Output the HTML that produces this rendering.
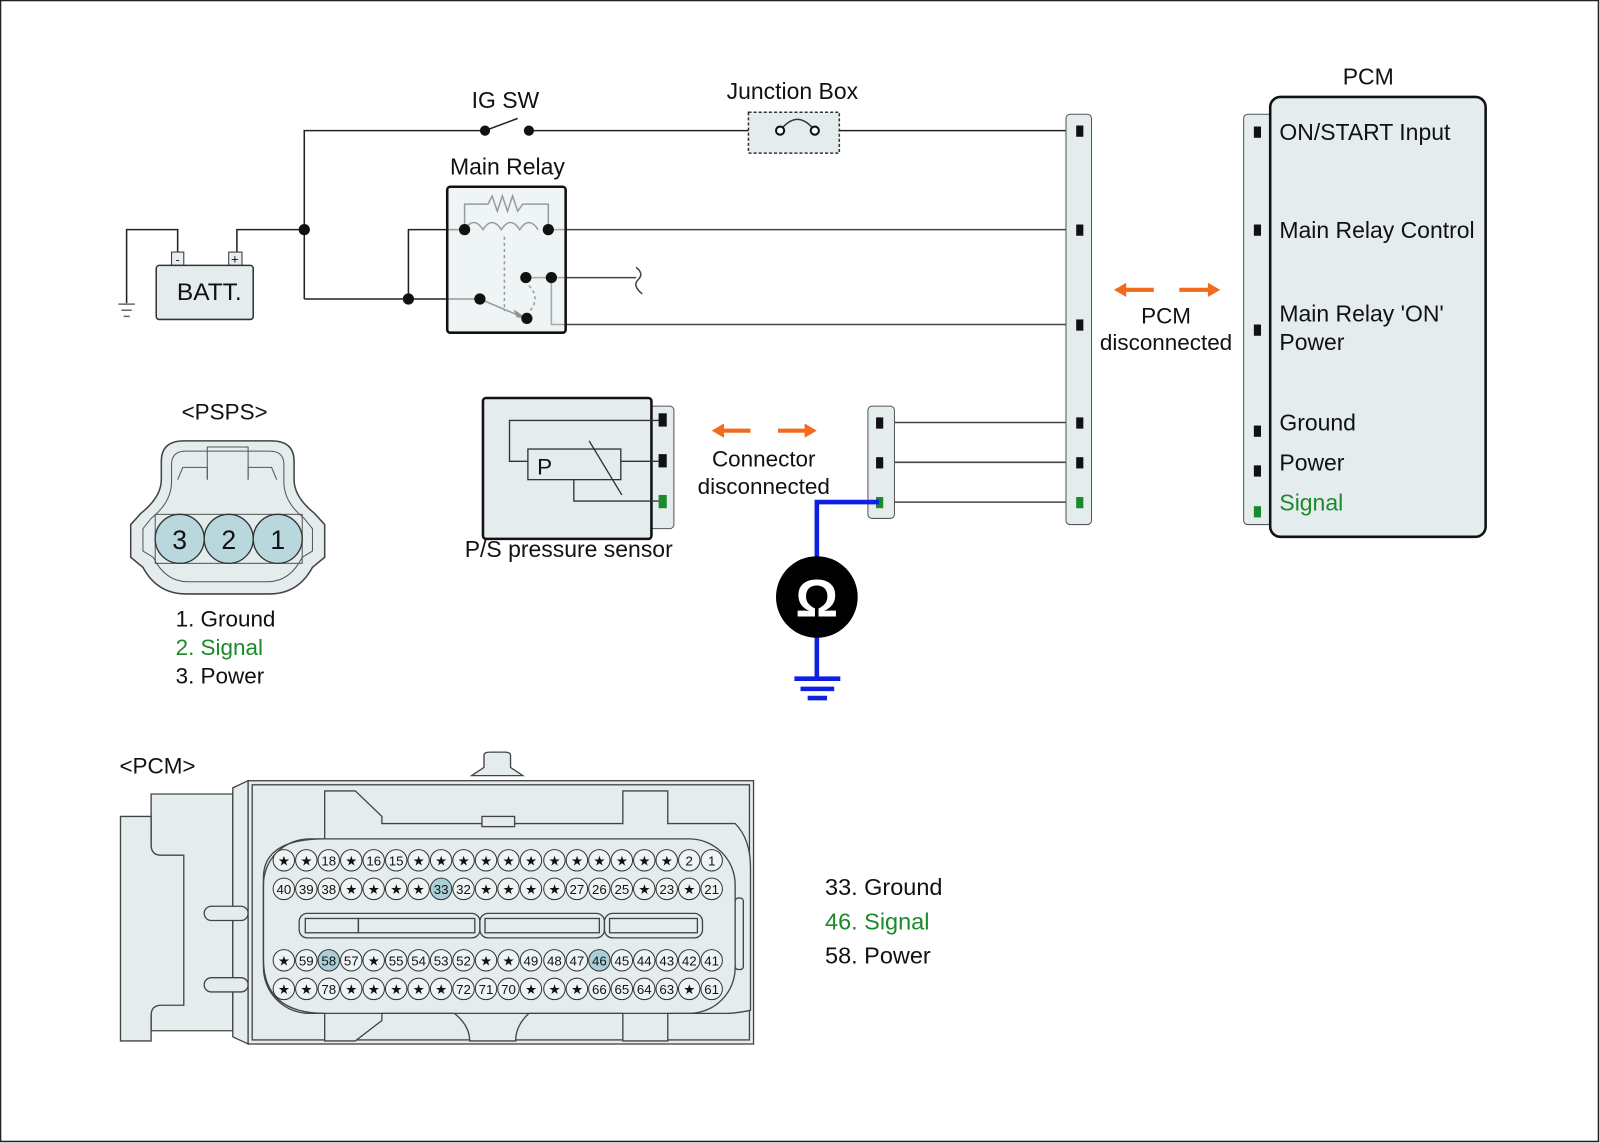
<!DOCTYPE html>
<html><head><meta charset="utf-8"><style>
html,body{margin:0;padding:0;background:#fff}
svg{display:block}
text{font-family:"Liberation Sans",Arial,sans-serif;fill:#111}
.pin circle{fill:#eef3f4;stroke:#333;stroke-width:1}
.pin text{font-size:13px;text-anchor:middle}
</style></head><body>
<svg width="1600" height="1143" viewBox="0 0 1567 1120" preserveAspectRatio="none" xmlns="http://www.w3.org/2000/svg">
<rect x="0.5" y="0.5" width="1565" height="1118" fill="#fff" stroke="#222" stroke-width="1.5"/>
<g fill="none" stroke="#222" stroke-width="1.5">
<polyline points="298,293 298,128 475,128"/>
<line x1="475" y1="128" x2="507" y2="116"/>
<line x1="518" y1="128" x2="733" y2="128"/>
<line x1="822" y1="128" x2="1057" y2="128"/>
<polyline points="298,225 232,225 232,247"/>
<polyline points="174,247 174,225 124,225 124,297"/>
<polyline points="298,293 470,293"/>
<polyline points="400,293 400,225 455,225"/>
<polyline points="455,225 455,200 478,200 482,192 487,207 492,192 497,207 502,192 507,207 512,200 537,200 537,225"/>
<path d="M455,225 q9,-14 18,0 q9,-14 18,0 q9,-14 18,0 q9,-14 18,0 "/>
<line x1="537" y1="225" x2="1057" y2="225" stroke="#444"/>
<line x1="494" y1="232" x2="494" y2="305" stroke-dasharray="3,3"/>
<path d="M518,280 q12,12 0,26" stroke-dasharray="3,3"/>
<line x1="470" y1="293" x2="510" y2="310"/>
<polyline points="515,272 623,272" stroke="#444"/>
<path d="M623,262 q8,6 2,12 q-6,6 4,14" stroke="#444"/>
<polyline points="540,272 540,318 1057,318" stroke="#444"/>
<line x1="861" y1="414" x2="1057" y2="414" stroke="#444"/>
<line x1="861" y1="453" x2="1057" y2="453" stroke="#444"/>
<line x1="861" y1="492" x2="1057" y2="492" stroke="#444"/>
</g>
<polygon points="516,312 503,303 506,311" fill="#111"/>
<g stroke="#666" stroke-width="1.5"><line x1="116" y1="298" x2="132" y2="298"/><line x1="119" y1="304" x2="129" y2="304"/><line x1="121" y1="310" x2="127" y2="310"/></g>
<rect x="168" y="247" width="12" height="13" fill="#e8eef0" stroke="#333"/>
<rect x="224" y="247" width="13" height="13" fill="#e8eef0" stroke="#333"/>
<text x="174" y="258" font-size="12" text-anchor="middle">-</text>
<text x="230" y="258" font-size="13" text-anchor="middle">+</text>
<rect x="153" y="260" width="95" height="53" rx="3" fill="#e4ecee" stroke="#333" stroke-width="1.5"/>
<text x="205" y="294" font-size="24" text-anchor="middle">BATT.</text>
<rect x="733" y="110" width="89" height="40" fill="#e4ecee" stroke="#333" stroke-width="1.5" stroke-dasharray="3,2"/>
<path d="M764,128 q17,-22 34,0" fill="none" stroke="#333" stroke-width="1.5"/>
<circle cx="764" cy="128" r="4" fill="#fff" stroke="#111" stroke-width="2"/>
<circle cx="798" cy="128" r="4" fill="#fff" stroke="#111" stroke-width="2"/>
<text x="776" y="97" font-size="22.5" text-anchor="middle">Junction Box</text>
<text x="495" y="106" font-size="22.5" text-anchor="middle">IG SW</text>
<text x="497" y="171" font-size="22.5" text-anchor="middle">Main Relay</text>
<rect x="438" y="183" width="116" height="143" rx="3" fill="#e4ecee" fill-opacity="0.6" stroke="#111" stroke-width="2.5"/>
<g fill="#111">
<circle cx="298" cy="225" r="5.5"/><circle cx="400" cy="293" r="5.5"/><circle cx="470" cy="293" r="5.5"/>
<circle cx="475" cy="128" r="5"/><circle cx="518" cy="128" r="5"/>
<circle cx="455" cy="225" r="5.5"/><circle cx="537" cy="225" r="5.5"/>
<circle cx="516" cy="312" r="5.5"/><circle cx="515" cy="272" r="5.5"/><circle cx="540" cy="272" r="5.5"/>
</g>
<rect x="1044" y="112" width="25" height="402" rx="4" fill="#e4ecee" stroke="#555"/>
<g fill="#111"><rect x="1054" y="123" width="7" height="11"/><rect x="1054" y="220" width="7" height="11"/><rect x="1054" y="313" width="7" height="11"/><rect x="1054" y="409" width="7" height="11"/><rect x="1054" y="448" width="7" height="11"/></g>
<rect x="1054" y="487" width="7" height="11" fill="#1a8a2a"/>
<rect x="1218" y="112" width="30" height="402" rx="4" fill="#e4ecee" stroke="#555"/>
<rect x="1244" y="95" width="211" height="431" rx="10" fill="#e4ecee" stroke="#111" stroke-width="2.5"/>
<g fill="#111"><rect x="1228" y="124" width="7" height="11"/><rect x="1228" y="220" width="7" height="11"/><rect x="1228" y="318" width="7" height="11"/><rect x="1228" y="417" width="7" height="11"/><rect x="1228" y="456" width="7" height="11"/></g>
<rect x="1228" y="496" width="7" height="11" fill="#1a8a2a"/>
<text x="1340" y="83" font-size="22.5" text-anchor="middle">PCM</text>
<g font-size="22.5"><text x="1253" y="137">ON/START Input</text><text x="1253" y="233">Main Relay Control</text><text x="1253" y="315">Main Relay 'ON'</text><text x="1253" y="343">Power</text><text x="1253" y="422">Ground</text><text x="1253" y="461">Power</text><text x="1253" y="500" style="fill:#1a8a2a">Signal</text></g>
<g fill="#f26a1b" stroke="#f26a1b">
<line x1="1100" y1="284" x2="1130" y2="284" stroke-width="4"/><polygon points="1091,284 1103,277 1103,291" stroke="none"/>
<line x1="1155" y1="284" x2="1185" y2="284" stroke-width="4"/><polygon points="1195,284 1183,277 1183,291" stroke="none"/>
<line x1="706" y1="422" x2="735" y2="422" stroke-width="4"/><polygon points="697,422 709,415 709,429" stroke="none"/>
<line x1="762" y1="422" x2="791" y2="422" stroke-width="4"/><polygon points="800,422 788,415 788,429" stroke="none"/>
</g>
<text x="1142" y="317" font-size="22" text-anchor="middle">PCM</text>
<text x="1142" y="343" font-size="22" text-anchor="middle">disconnected</text>
<text x="748" y="457" font-size="22" text-anchor="middle">Connector</text>
<text x="748" y="484" font-size="22" text-anchor="middle">disconnected</text>
<rect x="636" y="398" width="24" height="120" rx="4" fill="#e4ecee" stroke="#555"/>
<rect x="473" y="390" width="165" height="138" rx="3" fill="#e4ecee" stroke="#111" stroke-width="2.5"/>
<g fill="none" stroke="#333" stroke-width="1.3">
<polyline points="645,412 499,412 499,452 517,452"/>
<rect x="517" y="440" width="91" height="30" fill="#e4ecee"/>
<line x1="608" y1="452" x2="645" y2="452"/>
<polyline points="562,470 562,491 645,491"/>
<line x1="577" y1="432" x2="609" y2="485"/>
</g>
<text x="526" y="465" font-size="22">P</text>
<g fill="#111"><rect x="645" y="405" width="8" height="13"/><rect x="645" y="445" width="8" height="13"/></g>
<rect x="645" y="485" width="8" height="13" fill="#1a8a2a"/>
<text x="557" y="546" font-size="22.5" text-anchor="middle">P/S pressure sensor</text>
<rect x="850" y="398" width="26" height="110" rx="4" fill="#e4ecee" stroke="#555"/>
<g fill="#111"><rect x="858" y="409" width="7" height="11"/><rect x="858" y="448" width="7" height="11"/></g>
<rect x="858" y="487" width="7" height="11" fill="#1a8a2a"/>
<g stroke="#1020e0" stroke-width="4.5" fill="none">
<polyline points="861,492 800,492 800,550"/>
<line x1="800" y1="620" x2="800" y2="665"/>
<line x1="778" y1="665" x2="823" y2="665"/><line x1="784" y1="675" x2="817" y2="675"/><line x1="791" y1="684" x2="810" y2="684"/>
</g>
<circle cx="800" cy="585" r="40" fill="#000"/>
<text x="800" y="604" font-size="52" font-weight="bold" text-anchor="middle" style="fill:#fff">Ω</text>
<text x="220" y="411" font-size="22" text-anchor="middle">&lt;PSPS&gt;</text>
<path d="M158,470 L158,452 Q158,432 180,432 L266,432 Q288,432 288,452 L288,470 Q288,487 308,503 L318,514 L318,546 L306,556 Q292,582 264,582 L182,582 Q154,582 140,556 L128,546 L128,514 L138,503 Q158,487 158,470 Z" fill="#e4ecee" stroke="#444" stroke-width="1.5"/>
<path d="M168,472 L168,455 Q168,442 182,442 L264,442 Q278,442 278,455 L278,472 Q278,492 298,508 L306,518 L306,540 L296,546 Q284,570 262,570 L184,570 Q162,570 150,546 L140,540 L140,518 L148,508 Q168,492 168,472 Z" fill="none" stroke="#555"/>
<polyline points="174,470 179,458 203,458 203,470" fill="none" stroke="#555"/>
<polyline points="203,470 203,438 243,438 243,470" fill="none" stroke="#555"/>
<polyline points="243,470 243,458 266,458 271,470" fill="none" stroke="#555"/>
<rect x="152" y="504" width="144" height="48" fill="none" stroke="#555"/>
<g fill="#b8d8de" stroke="#333" stroke-width="1.3"><circle cx="176" cy="528" r="24"/><circle cx="224" cy="528" r="24"/><circle cx="272" cy="528" r="24"/></g>
<g font-size="26" text-anchor="middle"><text x="176" y="538">3</text><text x="224" y="538">2</text><text x="272" y="538">1</text></g>
<g font-size="22"><text x="172" y="614">1. Ground</text><text x="172" y="642" style="fill:#1a8a2a">2. Signal</text><text x="172" y="670">3. Power</text></g>
<text x="117" y="758" font-size="22">&lt;PCM&gt;</text>
<g fill="#e4ecee" stroke="#444" stroke-width="1.3">
<path d="M148,778 L228,778 L228,1010 L148,1010 Z"/>
<path d="M118,800 L148,800 L148,828 Q148,838 158,838 L180,838 L180,985 L158,985 Q148,985 148,995 L148,1020 L118,1020 Z"/>
<path d="M228,772 L243,765 L243,1023 L228,1016 Z"/>
<rect x="200" y="888" width="43" height="14" rx="7"/>
<rect x="200" y="958" width="43" height="14" rx="7"/>
<path d="M462,760 L474,752 L474,740 Q474,737 480,737 L494,737 Q500,737 500,740 L500,752 L512,760 Z"/>
<rect x="243" y="765" width="495" height="258"/>
<rect x="247" y="769" width="487" height="250" fill="none"/>
<path d="M318,775 L348,775 L374,800 L374,807 L610,807 L610,775 L654,775 L654,807 L720,807 Q735,822 735,850 L735,990 Q720,993 712,993 L654,993 L654,1020 L610,1020 L610,993 L518,993 Q505,1005 505,1020 L460,1020 Q460,1005 445,993 L374,993 L374,1000 L348,1020 L318,1020 L318,993 Q258,993 258,940 L258,860 Q258,822 318,822 Z" fill="#e4ecee"/>
<rect x="258" y="822" width="462" height="171" rx="45" fill="none"/>
<rect x="472" y="800" width="32" height="10"/>
<rect x="720" y="880" width="8" height="70" rx="3"/>
<rect x="293" y="895" width="177" height="24" rx="8"/>
<rect x="470" y="895" width="122" height="24" rx="8"/>
<rect x="592" y="895" width="96" height="24" rx="8"/>
<rect x="299" y="900" width="52" height="14" fill="none"/>
<rect x="351" y="900" width="114" height="14" fill="none"/>
<rect x="475" y="900" width="112" height="14" fill="none"/>
<rect x="597" y="900" width="86" height="14" fill="none"/>
</g>
<g class="pin">
<circle cx="278" cy="843" r="10.5"/><text x="278" y="848">★</text>
<circle cx="300" cy="843" r="10.5"/><text x="300" y="848">★</text>
<circle cx="322" cy="843" r="10.5"/><text x="322" y="848">18</text>
<circle cx="344" cy="843" r="10.5"/><text x="344" y="848">★</text>
<circle cx="366" cy="843" r="10.5"/><text x="366" y="848">16</text>
<circle cx="388" cy="843" r="10.5"/><text x="388" y="848">15</text>
<circle cx="410" cy="843" r="10.5"/><text x="410" y="848">★</text>
<circle cx="432" cy="843" r="10.5"/><text x="432" y="848">★</text>
<circle cx="454" cy="843" r="10.5"/><text x="454" y="848">★</text>
<circle cx="476" cy="843" r="10.5"/><text x="476" y="848">★</text>
<circle cx="498" cy="843" r="10.5"/><text x="498" y="848">★</text>
<circle cx="520" cy="843" r="10.5"/><text x="520" y="848">★</text>
<circle cx="543" cy="843" r="10.5"/><text x="543" y="848">★</text>
<circle cx="565" cy="843" r="10.5"/><text x="565" y="848">★</text>
<circle cx="587" cy="843" r="10.5"/><text x="587" y="848">★</text>
<circle cx="609" cy="843" r="10.5"/><text x="609" y="848">★</text>
<circle cx="631" cy="843" r="10.5"/><text x="631" y="848">★</text>
<circle cx="653" cy="843" r="10.5"/><text x="653" y="848">★</text>
<circle cx="675" cy="843" r="10.5"/><text x="675" y="848">2</text>
<circle cx="697" cy="843" r="10.5"/><text x="697" y="848">1</text>

<circle cx="278" cy="871" r="10.5"/><text x="278" y="876">40</text>
<circle cx="300" cy="871" r="10.5"/><text x="300" y="876">39</text>
<circle cx="322" cy="871" r="10.5"/><text x="322" y="876">38</text>
<circle cx="344" cy="871" r="10.5"/><text x="344" y="876">★</text>
<circle cx="366" cy="871" r="10.5"/><text x="366" y="876">★</text>
<circle cx="388" cy="871" r="10.5"/><text x="388" y="876">★</text>
<circle cx="410" cy="871" r="10.5"/><text x="410" y="876">★</text>
<circle cx="432" cy="871" r="10.5" style="fill:#a9d0d8"/><text x="432" y="876">33</text>
<circle cx="454" cy="871" r="10.5"/><text x="454" y="876">32</text>
<circle cx="476" cy="871" r="10.5"/><text x="476" y="876">★</text>
<circle cx="498" cy="871" r="10.5"/><text x="498" y="876">★</text>
<circle cx="520" cy="871" r="10.5"/><text x="520" y="876">★</text>
<circle cx="543" cy="871" r="10.5"/><text x="543" y="876">★</text>
<circle cx="565" cy="871" r="10.5"/><text x="565" y="876">27</text>
<circle cx="587" cy="871" r="10.5"/><text x="587" y="876">26</text>
<circle cx="609" cy="871" r="10.5"/><text x="609" y="876">25</text>
<circle cx="631" cy="871" r="10.5"/><text x="631" y="876">★</text>
<circle cx="653" cy="871" r="10.5"/><text x="653" y="876">23</text>
<circle cx="675" cy="871" r="10.5"/><text x="675" y="876">★</text>
<circle cx="697" cy="871" r="10.5"/><text x="697" y="876">21</text>

<circle cx="278" cy="941" r="10.5"/><text x="278" y="946">★</text>
<circle cx="300" cy="941" r="10.5"/><text x="300" y="946">59</text>
<circle cx="322" cy="941" r="10.5" style="fill:#a9d0d8"/><text x="322" y="946">58</text>
<circle cx="344" cy="941" r="10.5"/><text x="344" y="946">57</text>
<circle cx="366" cy="941" r="10.5"/><text x="366" y="946">★</text>
<circle cx="388" cy="941" r="10.5"/><text x="388" y="946">55</text>
<circle cx="410" cy="941" r="10.5"/><text x="410" y="946">54</text>
<circle cx="432" cy="941" r="10.5"/><text x="432" y="946">53</text>
<circle cx="454" cy="941" r="10.5"/><text x="454" y="946">52</text>
<circle cx="476" cy="941" r="10.5"/><text x="476" y="946">★</text>
<circle cx="498" cy="941" r="10.5"/><text x="498" y="946">★</text>
<circle cx="520" cy="941" r="10.5"/><text x="520" y="946">49</text>
<circle cx="543" cy="941" r="10.5"/><text x="543" y="946">48</text>
<circle cx="565" cy="941" r="10.5"/><text x="565" y="946">47</text>
<circle cx="587" cy="941" r="10.5" style="fill:#a9d0d8"/><text x="587" y="946">46</text>
<circle cx="609" cy="941" r="10.5"/><text x="609" y="946">45</text>
<circle cx="631" cy="941" r="10.5"/><text x="631" y="946">44</text>
<circle cx="653" cy="941" r="10.5"/><text x="653" y="946">43</text>
<circle cx="675" cy="941" r="10.5"/><text x="675" y="946">42</text>
<circle cx="697" cy="941" r="10.5"/><text x="697" y="946">41</text>

<circle cx="278" cy="969" r="10.5"/><text x="278" y="974">★</text>
<circle cx="300" cy="969" r="10.5"/><text x="300" y="974">★</text>
<circle cx="322" cy="969" r="10.5"/><text x="322" y="974">78</text>
<circle cx="344" cy="969" r="10.5"/><text x="344" y="974">★</text>
<circle cx="366" cy="969" r="10.5"/><text x="366" y="974">★</text>
<circle cx="388" cy="969" r="10.5"/><text x="388" y="974">★</text>
<circle cx="410" cy="969" r="10.5"/><text x="410" y="974">★</text>
<circle cx="432" cy="969" r="10.5"/><text x="432" y="974">★</text>
<circle cx="454" cy="969" r="10.5"/><text x="454" y="974">72</text>
<circle cx="476" cy="969" r="10.5"/><text x="476" y="974">71</text>
<circle cx="498" cy="969" r="10.5"/><text x="498" y="974">70</text>
<circle cx="520" cy="969" r="10.5"/><text x="520" y="974">★</text>
<circle cx="543" cy="969" r="10.5"/><text x="543" y="974">★</text>
<circle cx="565" cy="969" r="10.5"/><text x="565" y="974">★</text>
<circle cx="587" cy="969" r="10.5"/><text x="587" y="974">66</text>
<circle cx="609" cy="969" r="10.5"/><text x="609" y="974">65</text>
<circle cx="631" cy="969" r="10.5"/><text x="631" y="974">64</text>
<circle cx="653" cy="969" r="10.5"/><text x="653" y="974">63</text>
<circle cx="675" cy="969" r="10.5"/><text x="675" y="974">★</text>
<circle cx="697" cy="969" r="10.5"/><text x="697" y="974">61</text>
</g>
<g font-size="23"><text x="808" y="877">33. Ground</text><text x="808" y="911" style="fill:#1a8a2a">46. Signal</text><text x="808" y="944">58. Power</text></g>
</svg>
</body></html>
